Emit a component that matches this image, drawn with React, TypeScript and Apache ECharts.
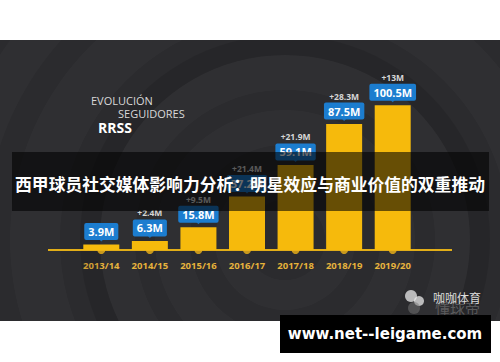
import React, { useEffect, useRef } from "react";
import * as echarts from "echarts";

const seasons = ["2013/14", "2014/15", "2015/16", "2016/17", "2017/18", "2018/19", "2019/20"];
const followers = [3.9, 6.3, 15.8, 37.2, 59.1, 87.5, 100.5];
const valueLabels = ["3.9M", "6.3M", "15.8M", "37.2M", "59.1M", "87.5M", "100.5M"];
const deltaLabels = ["", "+2.4M", "+9.5M", "+21.4M", "+21.9M", "+28.3M", "+13M"];
const zeros = [0, 0, 0, 0, 0, 0, 0];

const bannerTitle = "西甲球员社交媒体影响力分析：明星效应与商业价值的双重推动";
const siteText = "www.net--leigame.com";

const FONT = "'Open Sans', 'Noto Sans', sans-serif";
const CJK = "'Noto Sans CJK SC', sans-serif";

export default function App() {
  const ref = useRef<HTMLDivElement>(null);

  useEffect(() => {
    if (!ref.current) return;
    const chart = echarts.init(ref.current, null, { renderer: "svg" });

    const cx = 285;
    const cy = 240;
    const ringStyle = (o: number) => ({ fill: `rgba(255,255,255,${o})` });

    const option: any = {
      animation: false,
      backgroundColor: "transparent",
      grid: { left: 77, right: 83, top: 91.6, bottom: 112, containLabel: false },
      xAxis: {
        type: "category",
        data: seasons,
        axisLine: { show: false },
        axisTick: { show: false },
        axisLabel: {
          color: "#e6b23a",
          fontSize: 9.5,
          fontWeight: "bold",
          fontFamily: FONT,
          margin: 10,
        },
        splitLine: { show: false },
      },
      yAxis: {
        type: "value",
        min: 0,
        max: 110,
        show: false,
        splitLine: { show: false },
      },
      series: [
        {
          type: "bar",
          data: followers,
          barWidth: 36,
          z: 10,
          itemStyle: { color: "#f6ba0c" },
          label: {
            show: true,
            position: "top",
            distance: 7,
            formatter: (p: any) => {
              const d = deltaLabels[p.dataIndex];
              const v = valueLabels[p.dataIndex];
              return d ? `{d|${d}}\n{v|${v}}` : `{v|${v}}`;
            },
            rich: {
              d: {
                color: "#d6d6d6",
                fontSize: 8.5,
                fontWeight: "bold",
                fontFamily: FONT,
                lineHeight: 18,
                align: "center",
              },
              v: {
                color: "#ffffff",
                fontSize: 11,
                fontWeight: "bold",
                fontFamily: FONT,
                backgroundColor: "#1c7dcf",
                padding: [3, 4, 3, 4],
                borderRadius: 2,
                lineHeight: 12,
                align: "center",
              },
            },
          },
        },
        {
          type: "scatter",
          data: followers,
          z: 11,
          symbol: "path://M0,0 L10,0 L5,6 Z",
          symbolSize: [8, 4],
          symbolOffset: [0, -5],
          itemStyle: { color: "#1c7dcf" },
          clip: false,
          silent: true,
        },
        {
          type: "scatter",
          data: zeros,
          z: 9,
          symbol: "circle",
          symbolSize: 8,
          itemStyle: { color: "#f0b418" },
          clip: false,
          silent: true,
        },
      ],
      graphic: [
        { type: "rect", z: 0, shape: { x: 0, y: 40, width: 500, height: 281 }, style: { fill: "#2b2b2e" } },
        { type: "ring", z: 1, shape: { cx, cy, r0: 40, r: 70 }, style: ringStyle(0.025) },
        { type: "ring", z: 1, shape: { cx, cy, r0: 95, r: 130 }, style: ringStyle(0.025) },
        { type: "ring", z: 1, shape: { cx, cy, r0: 150, r: 185 }, style: ringStyle(0.022) },
        { type: "ring", z: 1, shape: { cx, cy, r0: 185, r: 205 }, style: { fill: "rgba(0,0,0,0.1)" } },
        { type: "ring", z: 1, shape: { cx, cy, r0: 225, r: 275 }, style: ringStyle(0.022) },
        { type: "ring", z: 1, shape: { cx, cy, r0: 300, r: 340 }, style: ringStyle(0.02) },
        { type: "rect", z: 2, shape: { x: 0, y: 0, width: 500, height: 40 }, style: { fill: "#ffffff" } },
        { type: "rect", z: 2, shape: { x: 0, y: 321, width: 500, height: 41 }, style: { fill: "#ffffff" } },
        {
          type: "line",
          z: 8,
          shape: { x1: 48, y1: 250, x2: 452, y2: 250 },
          style: { stroke: "#e2ae18", lineWidth: 2 },
        },
        {
          type: "text",
          z: 5,
          x: 91,
          y: 100,
          style: { text: "EVOLUCIÓN", fill: "#d9d9d9", font: `11px ${FONT}`, verticalAlign: "middle" },
        },
        {
          type: "text",
          z: 5,
          x: 118,
          y: 113,
          style: { text: "SEGUIDORES", fill: "#d9d9d9", font: `11px ${FONT}`, verticalAlign: "middle" },
        },
        {
          type: "text",
          z: 5,
          x: 98,
          y: 127,
          style: { text: "RRSS", fill: "#ffffff", font: `bold 14px ${FONT}`, verticalAlign: "middle" },
        },
        {
          type: "rect",
          z: 50,
          shape: { x: 12, y: 152, width: 477, height: 59 },
          style: { fill: "rgba(0,0,0,0.58)" },
        },
        {
          type: "text",
          z: 51,
          x: 250,
          y: 184,
          style: {
            text: bannerTitle,
            fill: "#ffffff",
            font: `bold 16.8px ${CJK}`,
            align: "center",
            verticalAlign: "middle",
          },
        },
        { type: "circle", z: 5, shape: { cx: 411, cy: 296, r: 6 }, style: { fill: "rgba(235,235,235,0.75)" } },
        { type: "circle", z: 5, shape: { cx: 419, cy: 301, r: 5 }, style: { fill: "rgba(235,235,235,0.75)" } },
        { type: "circle", z: 5, shape: { cx: 414, cy: 308, r: 6 }, style: { fill: "rgba(120,120,120,0.5)" } },
        {
          type: "text",
          z: 5,
          x: 435,
          y: 307,
          style: { text: "懂球帝", fill: "rgba(150,150,150,0.45)", font: `15px ${CJK}`, verticalAlign: "middle" },
        },
        {
          type: "text",
          z: 6,
          x: 433,
          y: 297,
          style: { text: "咖咖体育", fill: "#dcdcdc", font: `12px ${CJK}`, verticalAlign: "middle" },
        },
        {
          type: "rect",
          z: 60,
          shape: { x: 280, y: 315, width: 211, height: 38 },
          style: { fill: "#000000" },
        },
        {
          type: "text",
          z: 61,
          x: 385,
          y: 334,
          style: {
            text: siteText,
            fill: "#ffffff",
            font: `bold 15px 'DejaVu Sans', sans-serif`,
            align: "center",
            verticalAlign: "middle",
          },
        },
      ],
    };

    chart.setOption(option);
    return () => chart.dispose();
  }, []);

  return (
    <div
      ref={ref}
      style={{ position: "fixed", left: 0, top: 0, width: 500, height: 362, background: "#ffffff" }}
    />
  );
}
